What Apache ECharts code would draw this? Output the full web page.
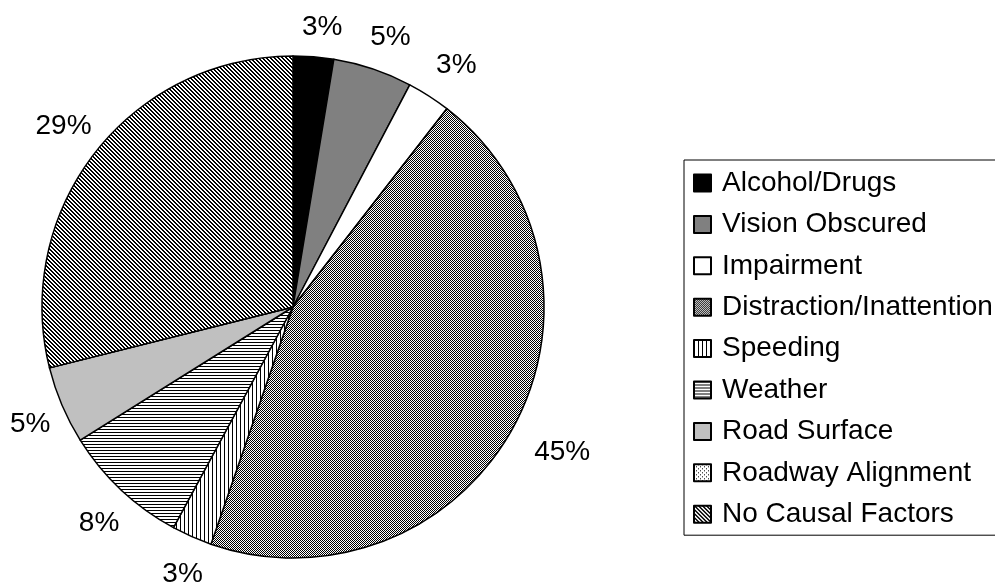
<!DOCTYPE html>
<html>
<head>
<meta charset="utf-8">
<script src="https://cdn.jsdelivr.net/npm/echarts@6/dist/echarts.min.js"></script>
<style>
  html, body { margin: 0; padding: 0; background: #fff; }
  #chart { width: 995px; height: 583px; }
</style>
</head>
<body>
<div id="chart"></div>
<script>
// chart data (percent of crashes by causal factor)
var categories = ['Alcohol/Drugs', 'Vision Obscured', 'Impairment', 'Distraction/Inattention',
  'Speeding', 'Weather', 'Road Surface', 'Roadway Alignment', 'No Causal Factors'];
var shares = [2.6, 5.1, 2.8, 44.8, 2.6, 8.2, 5.0, 0, 28.9];

var total = shares.reduce(function (a, b) { return a + b; }, 0);
var cx = 293, cy = 307, R = 251;

// small tiles used as Excel-like fill patterns
function tile (size, draw) {
  var c = document.createElement('canvas');
  c.width = size; c.height = size;
  var ctx = c.getContext('2d');
  ctx.fillStyle = '#fff';
  ctx.fillRect(0, 0, size, size);
  ctx.fillStyle = '#000';
  for (var y = 0; y < size; y++) {
    for (var x = 0; x < size; x++) {
      if (draw(x, y)) ctx.fillRect(x, y, 1, 1);
    }
  }
  return { image: c, repeat: 'repeat' };
}

var fills = [
  '#000000',
  '#808080',
  '#ffffff',
  tile(2, function (x, y) { return (x + y) % 2 === 0; }),
  tile(4, function (x, y) { return x === 0; }),
  tile(3, function (x, y) { return y === 0; }),
  '#c0c0c0',
  tile(4, function (x, y) { return (x === 0 && y === 0) || (x === 2 && y === 2); }),
  tile(4, function (x, y) { return ((x - y + 8) % 4) < 2; })
];

var chart = echarts.init(document.getElementById('chart'));

var option = {
  backgroundColor: '#fff',
  animation: false,
  legend: {
    orient: 'vertical',
    left: 684,
    top: 160,
    padding: [9, 12, 7, 9],
    itemGap: 13.4,
    itemWidth: 17,
    itemHeight: 17,
    icon: 'rect',
    borderColor: '#000',
    borderWidth: 1,
    borderRadius: 0,
    textStyle: {
      fontFamily: 'Liberation Sans, Arial, sans-serif',
      fontSize: 28,
      color: '#000',
      padding: [0, 0, 0, 6]
    },
    data: categories
  },
  series: [{
    type: 'pie',
    center: [cx, cy],
    radius: R,
    startAngle: 90,
    clockwise: true,
    avoidLabelOverlap: false,
    itemStyle: { borderColor: '#000', borderWidth: 1.5 },
    emphasis: { disabled: true },
    label: {
      show: true,
      position: 'outside',
      fontFamily: 'Liberation Sans, Arial, sans-serif',
      fontSize: 28,
      color: '#000',
      formatter: function (p) { return Math.round(p.value / total * 100) + '%'; }
    },
    labelLine: { show: false },
    labelLayout: function (p) {
      var before = 0;
      for (var i = 0; i < p.dataIndex; i++) before += shares[i];
      var mid = (before + shares[p.dataIndex] / 2) / total * 2 * Math.PI;
      var ux = Math.sin(mid), uy = -Math.cos(mid);
      var w = p.labelRect.width, h = p.labelRect.height;
      var d = R + 17 + (Math.abs(ux) * w + Math.abs(uy) * h) / 2;
      return { x: cx + 6 + ux * d, y: cy + 3 + uy * d, align: 'center', verticalAlign: 'middle' };
    },
    data: categories.map(function (name, i) {
      return {
        name: name,
        value: shares[i],
        itemStyle: { color: fills[i] },
        label: { show: shares[i] > 0 }
      };
    })
  }]
};

chart.setOption(option);
</script>
</body>
</html>
